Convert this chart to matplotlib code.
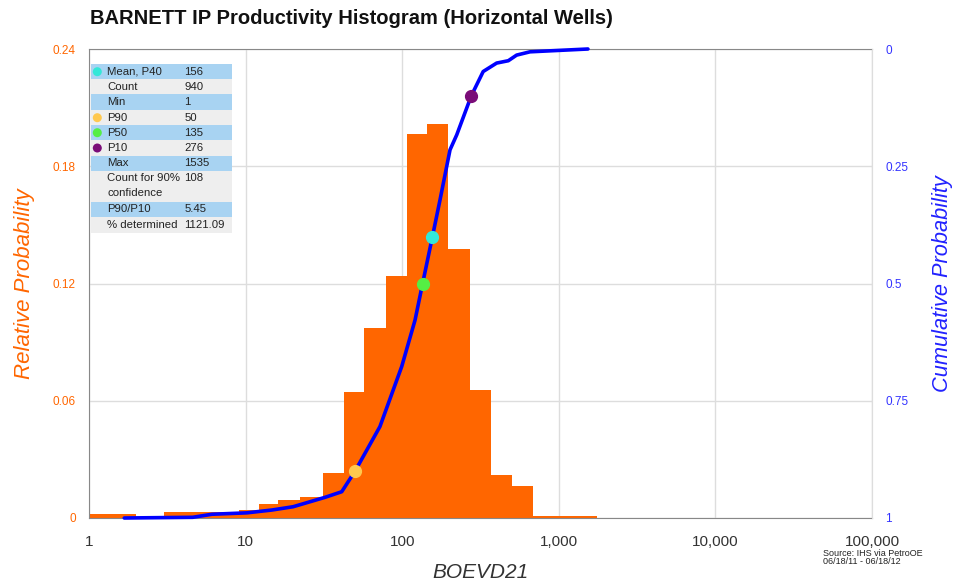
import numpy as np
import matplotlib
matplotlib.use("Agg")
import matplotlib.pyplot as plt
from matplotlib.patches import Rectangle, Ellipse

plt.rcParams['font.family'] = ['Liberation Sans', 'DejaVu Sans']

W, H = 959, 584

# histogram (BOE edges, relative probability)
bin_edges = [1, 2.0, 3.0, 9.1, 12.1, 16.1, 22.2, 31.0, 42.2, 57.4, 78.4, 106.7,
             144.5, 196.8, 270, 369, 502, 687, 1760]
rel_prob = [0.002, 0.0, 0.003, 0.004, 0.007, 0.009, 0.0105, 0.023, 0.0645, 0.0974,
            0.124, 0.1967, 0.2018, 0.1378, 0.0655, 0.022, 0.0165, 0.0009]

# cumulative (exceedance) curve
cum_x = [1.68, 4.6, 6.1, 10.2, 14.7, 20.1, 32.1, 41.1, 50, 72.1, 99.3, 120.8,
         135, 156, 174.3, 202, 223, 276, 329, 401, 476, 538, 655, 918, 1535]
cum_p = [1.0, 0.9985, 0.992, 0.989, 0.983, 0.976, 0.956, 0.944, 0.90, 0.805,
         0.677, 0.578, 0.50, 0.40, 0.322, 0.215, 0.183, 0.10, 0.048, 0.030,
         0.025, 0.013, 0.006, 0.0036, 0.0]

# marked points
mark_names = ["Mean, P40", "P90", "P50", "P10"]
mark_x = [156, 50, 135, 276]
mark_p = [0.40, 0.90, 0.50, 0.10]
mark_colors = ["#33E8D8", "#FFC84E", "#55EE44", "#7A0C78"]

# stats table
table_labels = ["Mean, P40", "Count", "Min", "P90", "P50", "P10", "Max",
                "Count for 90%\nconfidence", "P90/P10", "% determined"]
table_values = ["156", "940", "1", "50", "135", "276", "1535", "108", "5.45", "1121.09"]
table_dots = dict(zip(mark_names, mark_colors))

xticks = [1, 10, 100, 1000, 10000, 100000]
xtick_labels = ["1", "10", "100", "1,000", "10,000", "100,000"]
yticks = [0, 0.06, 0.12, 0.18, 0.24]
yticks_r = [0, 0.25, 0.5, 0.75, 1]

ORANGE = "#FF6600"
BLUE = "#0000FF"


def fx(px):
    return px / W


def fy(py):
    return 1 - py / H


fig = plt.figure(figsize=(W / 100, H / 100), dpi=100)
ax = fig.add_axes([fx(89), fy(518), fx(872) - fx(89), fy(49) - fy(518)])

ax.set_xscale("log")
ax.set_xlim(1, 100000)
ax.set_ylim(0, 0.24)
ax.bar(bin_edges[:-1], rel_prob, width=np.diff(bin_edges), align="edge",
       color=ORANGE, linewidth=0, zorder=2)

ax.set_xticks(xticks)
ax.set_xticklabels(xtick_labels, fontsize=11, color="#333333")
ax.xaxis.set_minor_locator(matplotlib.ticker.NullLocator())
ax.set_yticks(yticks)
ax.set_yticklabels(["0", "0.06", "0.12", "0.18", "0.24"], fontsize=8.5, color=ORANGE)
ax.tick_params(axis="x", length=0, pad=12)
ax.tick_params(axis="y", length=0, pad=9.5)
ax.grid(True, color="#DDDDDD", linewidth=1, zorder=0)
ax.set_axisbelow(True)

for s in ["left", "top", "bottom"]:
    ax.spines[s].set_color("#888888")
ax.spines["right"].set_color("#DDDDDD")

ax.set_ylabel("Relative Probability", fontsize=16, style="italic", color=ORANGE, labelpad=13)
ax.set_xlabel("BOEVD21", fontsize=15, style="italic", color="#333333", labelpad=10)

ax2 = ax.twinx()
ax2.set_ylim(1, 0)
ax2.plot(cum_x, cum_p, color=BLUE, lw=2.6, solid_capstyle="round", clip_on=False, zorder=3)
for x, p, c in zip(mark_x, mark_p, mark_colors):
    ax2.plot(x, p, "o", ms=8.5, color=c, mec=c, zorder=4)
ax2.set_yticks(yticks_r)
ax2.set_yticklabels(["0", "0.25", "0.5", "0.75", "1"], fontsize=8.5, color="#3333FF")
ax2.tick_params(axis="y", length=0, pad=9.5)
for s in ["left", "top", "bottom"]:
    ax2.spines[s].set_visible(False)
ax2.spines["right"].set_color("#DDDDDD")
ax2.set_ylabel("Cumulative Probability", fontsize=15.7, style="italic", color="#2222FF",
               labelpad=17)

# title
fig.text(fx(90), fy(18), "BARNETT IP Productivity Histogram (Horizontal Wells)",
         fontsize=14.5, fontweight="bold", va="center", ha="left", color="#111111")

# source
fig.text(fx(823), fy(553), "Source: IHS via PetroOE", fontsize=6.5, va="center", color="#222222")
fig.text(fx(823), fy(562), "06/18/11 - 06/18/12", fontsize=6.5, va="center", color="#222222")

# stats table
row_bounds = [64, 79, 94.3, 110, 125, 140.3, 155.7, 170.7, 201.7, 217.3, 232.7]
for i, (lab, val) in enumerate(zip(table_labels, table_values)):
    top, bot = row_bounds[i], row_bounds[i + 1]
    col = "#A8D3F2" if i % 2 == 0 else "#EEEEEE"
    fig.add_artist(Rectangle((fx(91), fy(bot)), fx(232) - fx(91), fy(top) - fy(bot),
                             transform=fig.transFigure, facecolor=col, edgecolor="none",
                             zorder=10))
    lines = lab.split("\n")
    for j, ln in enumerate(lines):
        fig.text(fx(107), fy(top + 7.7 + 15 * j), ln, fontsize=8.2, va="center", ha="left",
                 color="#222222", zorder=11)
    fig.text(fx(184.5), fy(top + 7.7), val, fontsize=8.2, va="center", ha="left",
             color="#222222", zorder=11)
    if lab in table_dots:
        fig.add_artist(Ellipse((fx(97.3), fy(top + 7.7)), 9 / W, 9 / H,
                               transform=fig.transFigure, facecolor=table_dots[lab],
                               edgecolor="none", zorder=11))

fig.savefig("out.png", dpi=100)
